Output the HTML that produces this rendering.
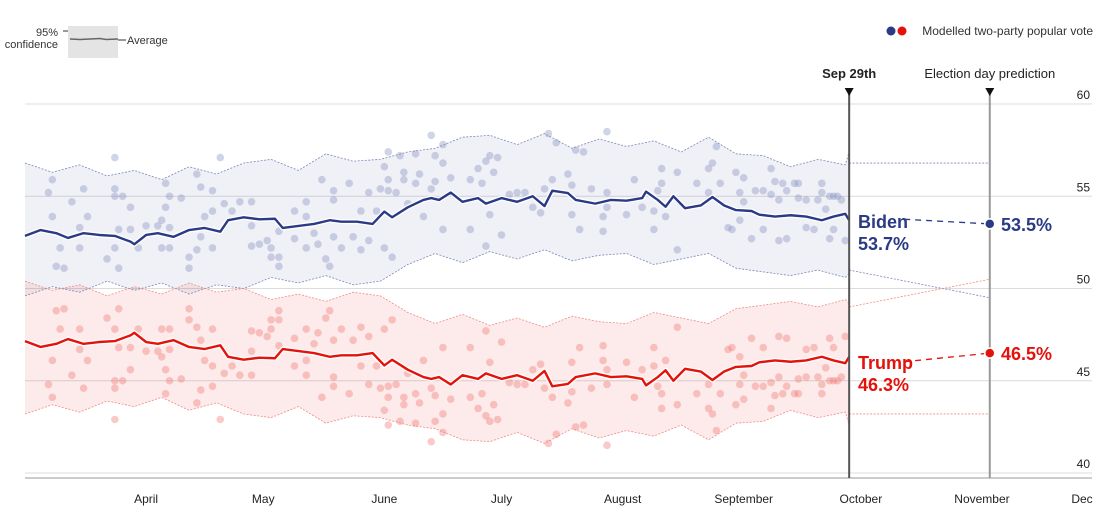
<!DOCTYPE html>
<html><head><meta charset="utf-8"><style>
body{margin:0;background:#fff;}
svg{display:block;font-family:"Liberation Sans",sans-serif;}
</style></head><body>
<svg id="chart" width="1108" height="517" viewBox="0 0 1108 517" xmlns="http://www.w3.org/2000/svg">
<g id="grid"></g>
<g id="bands"></g>
<g id="dots"></g>
<g id="lines"></g>
<g id="annot"></g>
<g>
<text x="58" y="36" font-size="11" fill="#333" text-anchor="end">95%</text>
<text x="58" y="48" font-size="11" fill="#333" text-anchor="end">confidence</text>
<line x1="63" y1="31" x2="68" y2="31" stroke="#333" stroke-width="1"/>
<rect x="68" y="26" width="50" height="32" fill="#e4e4e4"/>
<path d="M70 39 L80 39.5 L90 39 L100 38.5 L106 39.5 L118 39" stroke="#666" stroke-width="1.5" fill="none"/>
<line x1="118" y1="40" x2="126" y2="40" stroke="#333"/>
<text x="127" y="44" font-size="11" fill="#333">Average</text>
</g>
<g>
<circle cx="891" cy="31" r="4.5" fill="#2b3a84"/>
<circle cx="902" cy="31" r="4.5" fill="#e3120b"/>
<text x="1093" y="35" font-size="12" fill="#333" text-anchor="end">Modelled two-party popular vote</text>
</g>
</svg>
<script>
const pollDays=[23,7,6,7,12,15,16,14,9,14,8,10,21,23,23,25,27,24,27,23,24,31,29,36,36,37,35,34,37,35,37,40,44,45,46,45,44,42,42,50,48,48,51,48,53,55,58,58,58,60,62,63,63,65,65,65,69,69,72,72,74,72,76,75,79,79,79,77,78,83,81,84,86,86,88,88,90,91,92,92,94,93,93,93,96,97,97,95,98,100,100,101,102,104,105,104,107,107,105,109,107,114,118,122,119,134,136,149,141,143,118,116,119,121,120,117,114,124,126,128,130,132,133,135,139,140,145,149,149,148,148,142,140,154,156,158,161,161,163,163,162,164,167,167,172,175,175,176,177,178,180,181,182,184,184,183,183,186,187,189,189,191,191,192,193,193,195,194,195,197,198,198,200,200,202,203,204,204,205,206,206,207,208,209,207,210];
const pollBiden=[57.1,55.9,55.2,53.9,54.7,55.4,53.9,53.3,52.2,52.2,51.2,51.1,51.6,55.4,55.0,55.0,54.4,53.2,53.2,52.2,51.1,53.4,52.2,55.7,54.4,55.0,53.7,53.4,53.3,52.2,52.2,54.9,56.2,55.5,53.9,52.8,52.1,51.7,51.1,57.1,55.3,54.2,54.6,52.2,54.2,54.7,54.7,53.4,52.3,52.4,52.6,52.2,51.7,51.7,51.2,53.1,54.2,52.7,54.7,53.9,53.0,52.2,55.9,52.4,55.3,54.8,52.8,51.6,51.2,55.7,52.2,52.8,54.2,52.1,55.2,52.6,54.2,55.4,56.6,52.2,51.7,57.4,55.9,55.3,57.2,56.3,55.9,55.2,54.6,57.3,55.7,56.2,53.9,58.3,57.2,55.4,57.8,56.8,55.8,56.0,53.2,53.2,52.3,52.9,54.0,58.4,57.9,58.5,57.5,57.4,56.9,56.5,57.2,57.1,56.3,55.7,55.9,55.1,55.2,55.2,54.4,54.1,55.4,55.9,56.2,55.6,55.4,55.2,54.4,53.9,53.1,53.2,54.0,54.0,55.9,54.4,53.2,54.2,56.5,55.7,55.3,53.9,56.3,52.1,55.7,55.2,56.5,56.8,57.7,55.7,53.3,53.2,56.3,56.0,54.7,55.2,53.7,52.7,55.3,55.3,53.2,56.5,55.1,55.8,54.8,52.6,52.7,55.7,55.3,55.7,54.9,55.7,54.8,53.3,53.2,54.8,55.7,55.2,54.3,52.7,55.0,55.0,55.0,54.8,53.2,52.6];
const avgDays=[0,4,8,11,15,19,23,27,28,31,34,38,42,46,50,52,56,60,64,66,70,74,78,81,85,89,92,94,98,102,104,106,109,112,116,118,122,126,130,133,135,139,141,146,150,154,158,159,162,164,166,169,173,176,179,182,186,188,192,196,200,204,207,210,211];
const avgBiden=[52.85,53.17,53.0,52.74,53.0,52.9,52.85,52.54,52.4,52.9,53.0,52.8,53.17,53.28,53.08,53.7,53.86,53.75,53.78,53.28,53.39,53.5,53.7,53.62,53.62,53.5,54.17,53.86,54.4,54.8,54.9,54.8,55.2,54.7,54.9,54.6,54.9,54.7,55.0,54.47,55.3,55.17,54.8,54.6,54.8,54.76,54.9,55.25,54.8,54.43,55.0,54.35,54.5,54.96,54.5,54.25,54.2,54.0,53.9,53.97,53.9,53.7,53.9,54.05,53.7];
const avgTrump=avgBiden.map(v=>100-v);
const bandDays=[0,7,14,21,28,35,42,49,56,63,70,77,84,91,98,105,112,119,126,133,140,147,154,161,168,175,182,189,196,203,210,211];
const bandUpper=[56.8,56.3,56.7,56.1,56.4,55.9,56.6,56.2,56.8,57.0,56.4,57.3,56.9,57.0,57.4,57.6,58.2,58.3,57.8,58.4,57.6,58.1,57.7,58.0,57.4,58.2,57.3,57.2,56.6,57.0,56.7,57.4];
const bandLower=[49.6,50.1,49.8,50.4,49.9,50.3,49.7,50.2,50.0,50.6,50.3,50.7,50.2,50.4,51.3,51.9,51.4,52.0,51.6,52.1,51.5,51.8,51.9,51.3,51.6,51.9,51.1,50.9,50.7,51.0,50.6,50.8];
const projDays=[211,247];
const projUpper=[56.8,56.8];
const projLower=[51.0,49.5];
const finalBiden=53.5, finalTrump=46.5, currentBiden=53.7, currentTrump=46.3;
const yTicks=[60,55,50,45,40];
const monthLabels=["April","May","June","July","August","September","October","November","Dec"];
const monthDays=[31,61,92,122,153,184,214,245,275];

const X=d=>25+d*3.906;
const Y=v=>473-(v-40)*18.45;
const NS="http://www.w3.org/2000/svg";
function mk(tag,attrs,parent){const e=document.createElementNS(NS,tag);for(const k in attrs)e.setAttribute(k,attrs[k]);parent.appendChild(e);return e;}
const grid=document.getElementById('grid'),bands=document.getElementById('bands'),dots=document.getElementById('dots'),lines=document.getElementById('lines'),annot=document.getElementById('annot');

yTicks.forEach(t=>{
  const l=mk('line',{x1:25,x2:1092,y1:Y(t),y2:Y(t),stroke:'#dcdcdc','stroke-width':1},grid);
  
  
  const tx=mk('text',{x:1090,y:Y(t)-5,'font-size':12,fill:'#222','text-anchor':'end'},grid);
  tx.textContent=t;
  
  
});
const ax=mk('line',{x1:25,x2:1092,y1:478,y2:478,stroke:'#999','stroke-width':1},grid);


monthLabels.forEach((m,i)=>{
  const tx=mk('text',{x:Math.min(X(monthDays[i]),1082),y:503,'font-size':12,fill:'#222','text-anchor':'middle'},grid);
  tx.textContent=m;
  
  
});

function bandPath(up,lo){
  let d='M'+bandDays.map((dd,i)=>X(dd)+' '+Y(up[i])).join(' L');
  d+=' L'+bandDays.map((dd,i)=>[X(dd),Y(lo[i])]).reverse().map(p=>p[0]+' '+p[1]).join(' L')+' Z';
  return d;
}
function edge(days,vals){return 'M'+days.map((dd,i)=>X(dd)+' '+Y(vals[i])).join(' L');}
const tUp=bandLower.map(v=>100-v), tLo=bandUpper.map(v=>100-v);
const bb=mk('path',{d:bandPath(bandUpper,bandLower),fill:'#3a4a8c','fill-opacity':0.08},bands);


const tb=mk('path',{d:bandPath(tUp,tLo),fill:'#e8241f','fill-opacity':0.09},bands);


[[bandUpper,'#7c86b8'],[bandLower,'#7c86b8'],[tUp,'#f08a86'],[tLo,'#f08a86']].forEach(([v,c])=>{
  const e=mk('path',{d:edge(bandDays,v),fill:'none',stroke:c,'stroke-width':0.8,'stroke-dasharray':'2 1.5'},bands);
  
  
});
[[projUpper,'#7c86b8'],[projLower,'#7c86b8'],[projLower.map(v=>100-v),'#f08a86'],[projUpper.map(v=>100-v),'#f08a86']].forEach(([v,c])=>{
  const e=mk('path',{d:edge(projDays,v),fill:'none',stroke:c,'stroke-width':0.8,'stroke-dasharray':'2 1.5'},bands);
  
  
});

pollDays.forEach((d,i)=>{
  const b=mk('circle',{cx:X(d),cy:Y(pollBiden[i]),r:3.8,fill:'#8a93c4','fill-opacity':0.4},dots);
  
  
  const t=mk('circle',{cx:X(d),cy:Y(100-pollBiden[i]),r:3.8,fill:'#f07a76','fill-opacity':0.4},dots);
  
  
});

[[avgBiden,'#2b3a84','biden'],[avgTrump,'#e3120b','trump']].forEach(([v,c,n])=>{
  mk('path',{d:edge(avgDays,v),fill:'none',stroke:'#fff','stroke-width':5,'stroke-linejoin':'round'},lines);
  const l=mk('path',{d:edge(avgDays,v),fill:'none',stroke:c,'stroke-width':2.4,'stroke-linejoin':'round'},lines);
  
  
});

// vertical markers
[[211,'Sep 29th','bold','#555','sep29'],[247,'Election day prediction','normal','#999','election']].forEach(([d,txt,w,c,n])=>{
  const x=X(d);
  const l=mk('line',{x1:x,x2:x,y1:90,y2:478,stroke:c,'stroke-width':2},annot);
  
  
  mk('path',{d:`M${x-4.5} 88 L${x+4.5} 88 L${x} 96 Z`,fill:'#111'},annot);
  const t=mk('text',{x:x,y:78,'font-size':13,'font-weight':w,fill:'#222','text-anchor':'middle'},annot);
  t.textContent=txt;
  
  
});

[[currentBiden,finalBiden,'#2b3a84','Biden','biden',-1],[currentTrump,finalTrump,'#e3120b','Trump','trump',1]].forEach(([cur,fin,c,name,n,s])=>{
  const yc=Y(cur), yf=Y(fin);
  const dl=mk('line',{x1:X(211)+55,x2:X(247),y1:yc+ (s<0?-1:5),y2:yf,stroke:c,'stroke-width':1.3,'stroke-dasharray':'6 5'},annot);
  
  
  const t1=mk('text',{x:858,y:s<0?yc+8:yc+12,'font-size':18,'font-weight':'bold',fill:c},annot);
  t1.textContent=name;
  
  
  const t2=mk('text',{x:858,y:s<0?yc+30:yc+34,'font-size':18,'font-weight':'bold',fill:c},annot);
  t2.textContent=cur.toFixed(1)+'%';
  
  
  const dot=mk('circle',{cx:X(247),cy:yf,r:5,fill:c,stroke:'#fff','stroke-width':1.5},annot);
  
  
  const t3=mk('text',{x:1001,y:yf+7,'font-size':18,'font-weight':'bold',fill:c},annot);
  t3.textContent=fin.toFixed(1)+'%';
  
  
});
</script>
</body></html>
